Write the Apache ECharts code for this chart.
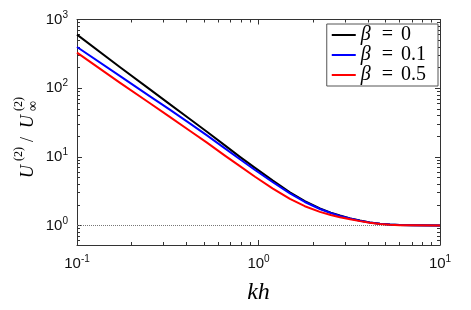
<!DOCTYPE html>
<html>
<head>
<meta charset="utf-8">
<script src="https://cdn.jsdelivr.net/npm/echarts@6/dist/echarts.min.js"></script>
<style>
html,body{margin:0;padding:0;background:#fff;}
#c{width:471px;height:310px;}
</style>
</head>
<body>
<div id="c"></div>
<script>
// ---- data ----
const kh        = [0.1, 0.172, 0.25, 0.32, 0.42, 0.52, 0.65, 0.79, 0.957, 1.2, 1.49, 1.8, 2.18, 2.5, 2.81, 3.2, 3.62, 4.1, 4.67, 5.3, 6, 7, 10];
const uBeta0    = [603, 203, 97.5, 60, 35.3, 23.2, 14.8, 10.0, 6.9, 4.5, 3.05, 2.26, 1.77, 1.54, 1.395, 1.27, 1.18, 1.11, 1.06, 1.03, 1.013, 1.005, 1.0];
const uBeta01   = [398, 151, 77.2, 50, 30.5, 20.5, 13.4, 9.23, 6.43, 4.26, 2.93, 2.2, 1.74, 1.52, 1.38, 1.265, 1.176, 1.108, 1.059, 1.03, 1.013, 1.005, 1.0];
const uBeta05   = [330, 120.5, 61.3, 39.1, 23.8, 16.1, 10.5, 7.33, 5.13, 3.45, 2.435, 1.91, 1.578, 1.42, 1.32, 1.23, 1.158, 1.099, 1.054, 1.027, 1.012, 1.005, 1.0];
const seriesNames = ['β = 0', 'β = 0.1', 'β = 0.5'];
const xTicks = [0.1, 1, 10];
const yTicks = [1, 10, 100, 1000];
const xMinor = [0.2,0.3,0.4,0.5,0.6,0.7,0.8,0.9, 2,3,4,5,6,7,8,9];
const yMinor = [0.6,0.7,0.8,0.9, 2,3,4,5,6,7,8,9, 20,30,40,50,60,70,80,90, 200,300,400,500,600,700,800,900];
const refLevel = [[0.1, 1], [10, 1]];

const X_MIN = 0.1, X_MAX = 10, Y_MIN = 0.52, Y_MAX = 1000;
const frameColor = '#333';

function powLabel(v) {
  const e = Math.round(Math.log10(v));
  return '{b|10}{s|' + e + '}';
}
const labelRich = {
  b: { fontSize: 15, fontFamily: 'Liberation Sans', color: '#111' },
  s: { fontSize: 10, fontFamily: 'Liberation Sans', color: '#111', padding: [0, 0, 9, 0] }
};

function xAxisDef(pos, major, labels) {
  return {
    type: 'log', logBase: 10, min: X_MIN, max: X_MAX, position: pos,
    axisLine: { show: major, onZero: false, lineStyle: { color: frameColor, width: 1 } },
    axisTick: { show: true, inside: true, length: major ? 5 : 3,
      customValues: major ? xTicks : xMinor,
      lineStyle: { color: frameColor, width: 1 } },
    axisLabel: { show: labels, customValues: xTicks, formatter: powLabel, rich: labelRich, margin: 9 },
    splitLine: { show: false },
    name: labels ? 'kh' : '',
    nameLocation: 'middle', nameGap: 36,
    nameTextStyle: { fontFamily: 'Liberation Serif', fontStyle: 'italic', fontSize: 24, color: '#000' }
  };
}
function yAxisDef(pos, major, labels) {
  return {
    type: 'log', logBase: 10, min: Y_MIN, max: Y_MAX, position: pos,
    axisLine: { show: major, onZero: false, lineStyle: { color: frameColor, width: 1 } },
    axisTick: { show: true, inside: true, length: major ? 5 : 3,
      customValues: major ? yTicks : yMinor,
      lineStyle: { color: frameColor, width: 1 } },
    axisLabel: { show: labels, customValues: yTicks, formatter: powLabel, rich: labelRich, margin: 9 },
    splitLine: { show: false }
  };
}

const colors = ['#000000', '#0000ff', '#ff0000'];
const values = [uBeta0, uBeta01, uBeta05];

const series = [{
  name: 'ref', type: 'line', data: refLevel, symbol: 'none', silent: true,
  lineStyle: { color: '#777', width: 1, type: [1, 1] }, z: 1
}];
values.forEach((vals, i) => {
  series.push({
    name: seriesNames[i], type: 'line', symbol: 'none', smooth: false,
    data: kh.map((x, j) => [x, vals[j]]),
    lineStyle: { color: colors[i], width: 2, join: 'round' }, itemStyle: { color: colors[i] },
    z: 2 + i
  });
});

const chart = echarts.init(document.getElementById('c'), null, { renderer: 'canvas' });
chart.setOption({
  animation: false,
  backgroundColor: '#fff',
  grid: { left: 77, top: 19.5, width: 363, height: 231, containLabel: false },
  xAxis: [
    xAxisDef('bottom', true, true),
    xAxisDef('top', true, false),
    xAxisDef('bottom', false, false),
    xAxisDef('top', false, false)
  ],
  yAxis: [
    yAxisDef('left', true, true),
    yAxisDef('right', true, false),
    yAxisDef('left', false, false),
    yAxisDef('right', false, false)
  ],
  legend: {
    data: seriesNames,
    orient: 'vertical', right: 33, top: 24,
    icon: 'rect', itemWidth: 24, itemHeight: 2, itemGap: 0,
    padding: [1, 12, 1, 5],
    backgroundColor: '#fff', borderColor: '#555', borderWidth: 1, borderRadius: 0,
    formatter: function (name) {
      const v = name.split('= ')[1];
      return '{b|β}{e|=}{n|' + v + '}';
    },
    textStyle: {
      rich: {
        b: { fontFamily: 'Liberation Serif', fontStyle: 'italic', fontSize: 20, color: '#000', lineHeight: 21 },
        e: { fontFamily: 'Liberation Serif', fontSize: 20, color: '#000', padding: [0, 8, 0, 11], lineHeight: 21 },
        n: { fontFamily: 'Liberation Serif', fontSize: 20, color: '#000', lineHeight: 21 }
      }
    }
  },
  graphic: [{
    type: 'group', x: 28, y: 137, rotation: Math.PI / 2,
    children: [
      { type: 'text', x: -41, y: 0, style: { text: 'U', font: 'italic 18px "Liberation Serif"', fill: '#000', verticalAlign: 'middle', align: 'left' } },
      { type: 'text', x: -24, y: -9, style: { text: '(2)', font: '12px "Liberation Serif"', fill: '#000', verticalAlign: 'middle', align: 'left' } },
      { type: 'text', x: -5, y: 0, style: { text: '/', font: '18px "Liberation Serif"', fill: '#000', verticalAlign: 'middle', align: 'left' } },
      { type: 'text', x: 9, y: 0, style: { text: 'U', font: 'italic 18px "Liberation Serif"', fill: '#000', verticalAlign: 'middle', align: 'left' } },
      { type: 'text', x: 26, y: -9, style: { text: '(2)', font: '12px "Liberation Serif"', fill: '#000', verticalAlign: 'middle', align: 'left' } },
      { type: 'text', x: 26, y: 5, style: { text: '∞', font: '14px "Liberation Serif"', fill: '#000', verticalAlign: 'middle', align: 'left' } }
    ]
  }],
  series: series
});
</script>
</body>
</html>
